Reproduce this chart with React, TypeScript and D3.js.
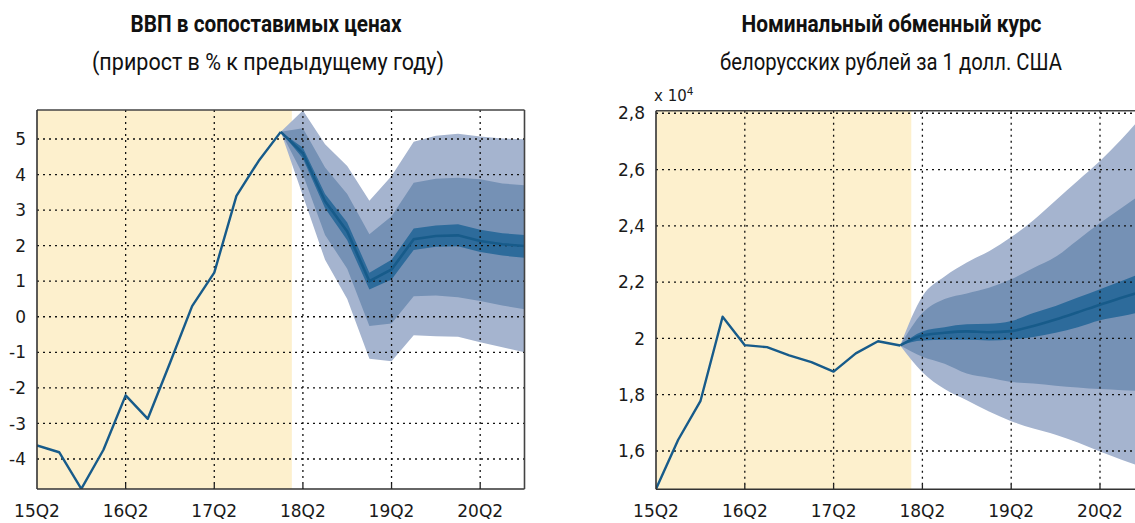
import React from "react";
import * as d3 from "d3";

// ---------- data ----------
const quarters = [
  "15Q2", "15Q3", "15Q4", "16Q1", "16Q2", "16Q3", "16Q4", "17Q1", "17Q2", "17Q3", "17Q4", "18Q1",
  "18Q2", "18Q3", "18Q4", "19Q1", "19Q2", "19Q3", "19Q4", "20Q1", "20Q2", "20Q3", "20Q4",
];
const xTickLabels = ["15Q2", "16Q2", "17Q2", "18Q2", "19Q2", "20Q2"];
const historyQuarters = quarters.slice(0, 12);
const forecastQuarters = quarters.slice(11);

// GDP growth, %
const gdpHistory = [-3.62, -3.81, -4.84, -3.74, -2.21, -2.87, -1.3, 0.3, 1.24, 3.4, 4.38, 5.2];
const gdpCenter = [5.2, 4.6, 3.25, 2.4, 1.0, 1.33, 2.18, 2.27, 2.29, 2.13, 2.04, 1.99];
const gdpInnerHi = [5.2, 4.75, 3.45, 2.65, 1.24, 1.6, 2.48, 2.57, 2.6, 2.45, 2.35, 2.3];
const gdpInnerLo = [5.2, 4.45, 3.05, 2.15, 0.77, 1.05, 1.88, 1.97, 1.98, 1.82, 1.72, 1.66];
const gdpMidHi = [5.2, 5.3, 4.2, 3.45, 2.32, 2.83, 3.77, 3.88, 3.91, 3.87, 3.75, 3.7];
const gdpMidLo = [5.2, 4.0, 2.3, 1.35, -0.26, -0.19, 0.58, 0.6, 0.55, 0.44, 0.32, 0.21];
const gdpOutHi = [5.2, 5.8, 4.85, 4.24, 3.26, 3.96, 4.92, 5.09, 5.15, 5.07, 5.01, 4.99];
const gdpOutLo = [5.2, 3.4, 1.6, 0.5, -1.18, -1.25, -0.52, -0.55, -0.56, -0.72, -0.86, -1.0];
const gdpTicks = [5, 4, 3, 2, 1, 0, -1, -2, -3, -4];
const gdpTickLabels = ["5", "4", "3", "2", "1", "0", "-1", "-2", "-3", "-4"];

// Exchange rate, x 10^4 BYR per USD
const fxHistory = [1.465, 1.64, 1.777, 2.077, 1.976, 1.969, 1.94, 1.916, 1.882, 1.947, 1.99, 1.975];
const fxCenter = [1.975, 2.01, 2.02, 2.025, 2.022, 2.026, 2.044, 2.067, 2.093, 2.12, 2.145, 2.17];
const fxInnerHi = [1.975, 2.025, 2.04, 2.05, 2.052, 2.062, 2.09, 2.115, 2.145, 2.175, 2.205, 2.235];
const fxInnerLo = [1.975, 1.993, 1.995, 1.995, 1.993, 1.996, 2.005, 2.02, 2.04, 2.065, 2.08, 2.097];
const fxMidHi = [1.975, 2.09, 2.14, 2.16, 2.18, 2.21, 2.25, 2.29, 2.35, 2.41, 2.465, 2.52];
const fxMidLo = [1.975, 1.935, 1.91, 1.875, 1.86, 1.845, 1.84, 1.832, 1.826, 1.82, 1.816, 1.812];
const fxOutHi = [1.975, 2.15, 2.22, 2.27, 2.31, 2.36, 2.42, 2.49, 2.56, 2.63, 2.71, 2.8];
const fxOutLo = [1.975, 1.88, 1.82, 1.78, 1.74, 1.706, 1.68, 1.658, 1.63, 1.598, 1.568, 1.54];
const fxTicks = [2.8, 2.6, 2.4, 2.2, 2.0, 1.8, 1.6];
const fxTickLabels = ["2,8", "2,6", "2,4", "2,2", "2", "1,8", "1,6"];

// ---------- styles ----------
const COL_HIST_BG = "#fdf0cd";
const COL_OUT = "#a5b4cf";
const COL_MID = "#7591b5";
const COL_IN = "#2d6b9b";
const COL_LINE = "#175b8a";
const TICK_FONT = "DejaVu Sans, Verdana, sans-serif";
const TITLE_FONT = "Roboto, 'Noto Sans', sans-serif";

type PanelProps = {
  id: string;
  x0: number;
  x1: number;
  top: number;
  bottom: number;
  yDomain: [number, number];
  ticks: number[];
  tickLabels: string[];
  history: number[];
  center: number[];
  bands: { lo: number[]; hi: number[]; color: string }[];
  curve: d3.CurveFactory;
  clipRight: number;
};

function Panel(p: PanelProps) {
  const x = d3
    .scalePoint<string>()
    .domain(quarters)
    .range([p.x0, p.x1]);
  const y = d3.scaleLinear().domain(p.yDomain).range([p.bottom, p.top]);
  const step = x.step();
  const histEnd = (x(historyQuarters[historyQuarters.length - 1]) as number) + step / 2;

  const line = d3
    .line<number>()
    .x((_, i) => x(historyQuarters[i]) as number)
    .y((d) => y(d));
  const fLine = d3
    .line<number>()
    .x((_, i) => x(forecastQuarters[i]) as number)
    .y((d) => y(d))
    .curve(p.curve);
  const area = (lo: number[], hi: number[]) =>
    d3
      .area<number>()
      .x((_, i) => x(forecastQuarters[i]) as number)
      .y0((_, i) => y(lo[i]))
      .y1((_, i) => y(hi[i]))
      .curve(p.curve)(lo.map((v) => v));

  const right = Math.min(p.x1, p.clipRight);
  const clipId = `clip-${p.id}`;
  return (
    <g>
      <defs>
        <clipPath id={clipId}>
          <rect x={p.x0} y={p.top} width={p.x1 - p.x0} height={p.bottom - p.top} />
        </clipPath>
      </defs>
      <rect x={p.x0} y={p.top} width={p.x1 - p.x0} height={p.bottom - p.top} fill="#fff" />
      <rect x={p.x0} y={p.top} width={histEnd - p.x0} height={p.bottom - p.top} fill={COL_HIST_BG} />
      <g clipPath={`url(#${clipId})`}>
        {p.bands.map((b, i) => (
          <path key={i} d={area(b.lo, b.hi) || ""} fill={b.color} />
        ))}
        {/* grid */}
        {xTickLabels.slice(1).map((q) => (
          <line
            key={q}
            x1={x(q)}
            x2={x(q)}
            y1={p.top}
            y2={p.bottom}
            stroke="#111"
            strokeWidth={1.3}
            strokeDasharray="2,4"
          />
        ))}
        {p.ticks.map((t) => (
          <line
            key={t}
            x1={p.x0}
            x2={p.x1}
            y1={y(t)}
            y2={y(t)}
            stroke="#111"
            strokeWidth={1.3}
            strokeDasharray="2,4"
          />
        ))}
        <path d={fLine(p.center) || ""} fill="none" stroke={COL_LINE} strokeWidth={2.6} />
        <path d={line(p.history) || ""} fill="none" stroke={COL_LINE} strokeWidth={2.4} strokeLinejoin="round" />
      </g>
      {/* ticks */}
      {xTickLabels.slice(1).map((q) => (
        <line key={"t" + q} x1={x(q)} x2={x(q)} y1={p.bottom} y2={p.bottom - 5} stroke="#222" strokeWidth={1.3} />
      ))}
      {/* frame */}
      <line x1={p.x0} x2={right} y1={p.top} y2={p.top} stroke="#444" strokeWidth={1.6} />
      <line x1={p.x0} x2={right} y1={p.bottom} y2={p.bottom} stroke="#333" strokeWidth={1.6} />
      <line x1={p.x0} x2={p.x0} y1={p.top} y2={p.bottom} stroke="#333" strokeWidth={1.6} />
      {p.x1 <= p.clipRight && (
        <line x1={p.x1} x2={p.x1} y1={p.top} y2={p.bottom} stroke="#444" strokeWidth={1.6} />
      )}
      {/* labels */}
      {xTickLabels.map((q) => (
        <text
          key={"l" + q}
          x={x(q)}
          y={p.bottom + 28}
          textAnchor="middle"
          fontFamily={TICK_FONT}
          fontSize={17}
          fill="#1a1a1a"
        >
          {q}
        </text>
      ))}
      {p.ticks.map((t, i) => (
        <text
          key={"y" + t}
          x={p.x0 - 11}
          y={y(t)}
          dy="0.36em"
          textAnchor="end"
          fontFamily={TICK_FONT}
          fontSize={17}
          fill="#1a1a1a"
        >
          {p.tickLabels[i]}
        </text>
      ))}
    </g>
  );
}

export default function App() {
  const W = 1135;
  const H = 523;
  return (
    <div style={{ position: "absolute", left: 0, top: 0, width: W, height: H, overflow: "hidden", background: "#fff" }}>
      <svg width={W} height={H} viewBox={`0 0 ${W} ${H}`} style={{ display: "block" }}>
        <rect width={W} height={H} fill="#fff" />
        {/* titles */}
        <text x={266} y={31.5} textAnchor="middle" fontFamily={TITLE_FONT} fontWeight={700} fontSize={23} fill="#111" textLength={271} lengthAdjust="spacingAndGlyphs">
          ВВП в сопоставимых ценах
        </text>
        <text x={268} y={70} textAnchor="middle" fontFamily={TITLE_FONT} fontSize={23} fill="#111" textLength={352} lengthAdjust="spacingAndGlyphs">
          (прирост в % к предыдущему году)
        </text>
        <text x={891.5} y={31.5} textAnchor="middle" fontFamily={TITLE_FONT} fontWeight={700} fontSize={23} fill="#111" textLength={300} lengthAdjust="spacingAndGlyphs">
          Номинальный обменный курс
        </text>
        <text x={891} y={70} textAnchor="middle" fontFamily={TITLE_FONT} fontSize={23} fill="#111" textLength={342} lengthAdjust="spacingAndGlyphs">
          белорусских рублей за 1 долл. США
        </text>

        <Panel
          id="gdp"
          x0={37}
          x1={524.5}
          top={110}
          bottom={489}
          yDomain={[-4.844, 5.815]}
          ticks={gdpTicks}
          tickLabels={gdpTickLabels}
          history={gdpHistory}
          center={gdpCenter}
          bands={[
            { lo: gdpOutLo, hi: gdpOutHi, color: COL_OUT },
            { lo: gdpMidLo, hi: gdpMidHi, color: COL_MID },
            { lo: gdpInnerLo, hi: gdpInnerHi, color: COL_IN },
          ]}
          curve={d3.curveLinear}
          clipRight={W}
        />
        <Panel
          id="fx"
          x0={656}
          x1={1144.4}
          top={110.7}
          bottom={489.3}
          yDomain={[1.464, 2.809]}
          ticks={fxTicks}
          tickLabels={fxTickLabels}
          history={fxHistory}
          center={fxCenter}
          bands={[
            { lo: fxOutLo, hi: fxOutHi, color: COL_OUT },
            { lo: fxMidLo, hi: fxMidHi, color: COL_MID },
            { lo: fxInnerLo, hi: fxInnerHi, color: COL_IN },
          ]}
          curve={d3.curveMonotoneX}
          clipRight={W}
        />
        <text x={654} y={101} fontFamily={TICK_FONT} fontSize={15} fill="#1a1a1a">
          x 10
          <tspan fontSize={10.5} dy={-6}>
            4
          </tspan>
        </text>
      </svg>
    </div>
  );
}
